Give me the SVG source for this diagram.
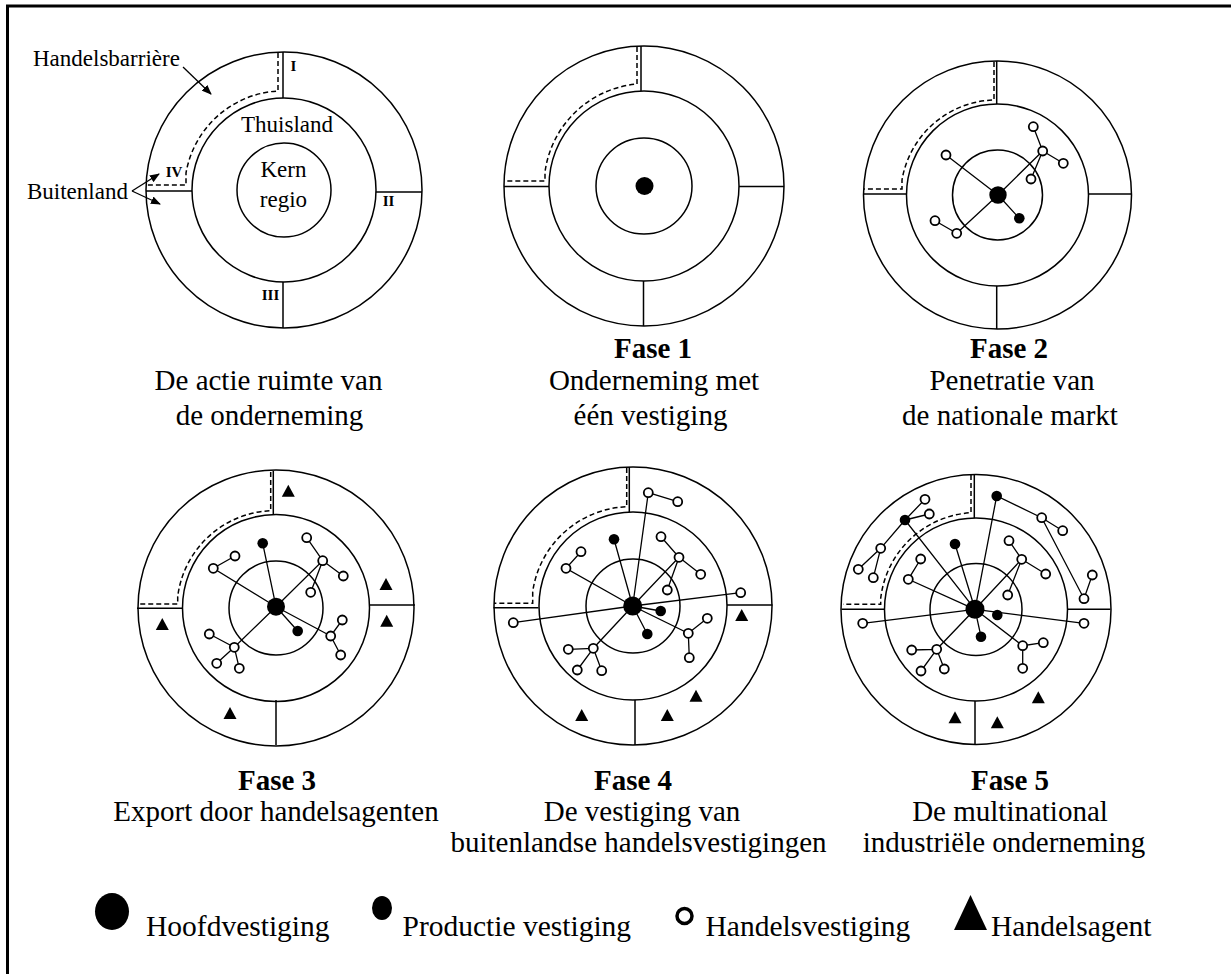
<svg xmlns="http://www.w3.org/2000/svg" xmlns:xlink="http://www.w3.org/1999/xlink" width="1231" height="974" viewBox="0 0 1231 974">
<style>
.ring{fill:none;stroke:#000;stroke-width:1.5}
.dv{stroke:#000;stroke-width:1.5;fill:none}
.dash{fill:none;stroke:#000;stroke-width:1.5;stroke-dasharray:5 3}
.link{fill:none;stroke:#000;stroke-width:1.3}
.blk{fill:#000}
.shop{fill:#fff;stroke:#000;stroke-width:1.8}
.cap{font-family:"Liberation Serif","Times New Roman",serif;font-size:29px;text-anchor:middle;fill:#000}
.b{font-weight:bold}
.lbl{font-family:"Liberation Serif","Times New Roman",serif;font-size:23px;fill:#000}
.rom{font-family:"Liberation Serif","Times New Roman",serif;font-size:15px;font-weight:bold;fill:#000;text-anchor:middle}
.leg{font-family:"Liberation Serif","Times New Roman",serif;font-size:29.5px;fill:#000}
</style>
<defs>
<path id="tri" d="M0,-7 L6.5,5 L-6.5,5Z" fill="#000"/>
<marker id="ah" markerWidth="10" markerHeight="8" refX="9" refY="4" orient="auto" markerUnits="userSpaceOnUse"><path d="M0,0 L10,4 L0,8Z" fill="#000"/></marker>
</defs>
<rect width="1231" height="974" fill="#fff"/>
<path d="M7.5,974 V6 H1231" fill="none" stroke="#000" stroke-width="3"/>

<!-- Diagram 0 -->
<g id="d0">
<circle class="ring" cx="284" cy="190" r="138"/>
<circle class="ring" cx="284" cy="190" r="92"/>
<circle class="ring" cx="284" cy="190" r="47"/>
<path class="dv" d="M283,52 V98 M376,192 H422 M283,282 V328 M146,191 H192"/>
<path class="dash" d="M278,53 V91 A99,99 0 0 0 186,173 V185 H147"/>
<text class="lbl" x="33" y="65.5">Handelsbarrière</text>
<text class="lbl" x="241" y="131.5">Thuisland</text>
<text class="lbl" x="283.5" y="177" text-anchor="middle">Kern</text>
<text class="lbl" x="283.5" y="207" text-anchor="middle">regio</text>
<text class="lbl" x="27" y="199">Buitenland</text>
<text class="rom" x="293.5" y="71">I</text>
<text class="rom" x="174" y="177">IV</text>
<text class="rom" x="388.5" y="206">II</text>
<text class="rom" x="270.5" y="300">III</text>
<path class="link" d="M183,67 L211,94" marker-end="url(#ah)"/>
<path class="link" d="M132,191 L159,174" marker-end="url(#ah)"/>
<path class="link" d="M132,191 L160,204" marker-end="url(#ah)"/>
<text class="cap" x="268.5" y="390">De actie ruimte van</text>
<text class="cap" x="269.5" y="425">de onderneming</text>
</g>

<!-- Diagram 1 -->
<g id="d1">
<circle class="ring" cx="644" cy="186" r="140"/>
<circle class="ring" cx="644" cy="186" r="95"/>
<circle class="ring" cx="644" cy="186" r="48"/>
<path class="dv" d="M641,46 V91 M739,186.5 H784 M643.5,281 V326 M504,186.5 H549"/>
<path class="dash" d="M637,47 V84 A102,102 0 0 0 545,172 V181 H505"/>
<g id="d1-hq"><circle class="blk" cx="644.5" cy="186" r="9"/></g>
<text class="cap b" x="653" y="358">Fase 1</text>
<text class="cap" x="654" y="390">Onderneming met</text>
<text class="cap" x="650.5" y="425">één vestiging</text>
</g>

<!-- Diagram 2 -->
<g id="d2">
<circle class="ring" cx="997.5" cy="195" r="134"/>
<circle class="ring" cx="997.5" cy="195" r="91"/>
<circle class="ring" cx="997.5" cy="195" r="45"/>
<path class="dv" d="M996.7,61 V104 M1089,194 H1131.5 M996.7,286 V329 M863.5,194 H907"/>
<path class="dash" d="M994,62 V100 A96,96 0 0 0 902,180 V189 H864"/>
<g id="d2-links"><path class="link" d="M998,195 L946,155 M998,195 L1042.7,151 M998,195 L1019.3,218.3 M998,195 L956.7,233.3 M1042.7,151 L1033.3,126.7 M1042.7,151 L1063.3,163.3 M1042.7,151 L1031,179 M935,220.7 L956.7,233.3"/></g>
<g id="d2-nodes">
<circle class="blk" cx="998" cy="195" r="8.7"/>
<circle class="blk" cx="1019.3" cy="218.3" r="5.3"/>
<circle class="shop" cx="946" cy="155" r="4.5"/>
<circle class="shop" cx="1033.3" cy="126.7" r="4.5"/>
<circle class="shop" cx="1042.7" cy="151" r="4.5"/>
<circle class="shop" cx="1063.3" cy="163.3" r="4.5"/>
<circle class="shop" cx="1031" cy="179" r="4.5"/>
<circle class="shop" cx="935" cy="220.7" r="4.5"/>
<circle class="shop" cx="956.7" cy="233.3" r="4.5"/>
</g>
<text class="cap b" x="1009" y="358">Fase 2</text>
<text class="cap" x="1012" y="390">Penetratie van</text>
<text class="cap" x="1010" y="425">de nationale markt</text>
</g>

<!-- Diagram 3 -->
<g id="d3">
<circle class="ring" cx="276" cy="608" r="138"/>
<circle class="ring" cx="276" cy="608" r="93.5"/>
<circle class="ring" cx="276" cy="608" r="47"/>
<path class="dv" d="M273.3,471 V514 M370,605 H415 M276,700 V745 M137,608.3 H182"/>
<path class="dash" d="M270.7,472 V510.7 A98,98 0 0 0 177.7,596.7 V604 H138"/>
<g id="d3-links"><path class="link" d="M276,606.7 L213.3,568.3 L235,556 M276,606.7 L262.7,543.3 M276,606.7 L322.7,560.7 L306.7,537.7 M322.7,560.7 L343.3,576 M322.7,560.7 L310.7,592.3 M276,606.7 L297.7,631 M276,606.7 L330.7,636 L342.3,620 M330.7,636 L340.7,655 M276,606.7 L234.3,647.3 L209.3,634 M234.3,647.3 L216.7,663.3 M234.3,647.3 L239.3,668.3"/></g>
<g id="d3-nodes">
<circle class="blk" cx="276" cy="606.7" r="9"/>
<circle class="blk" cx="262.7" cy="543.3" r="5.3"/>
<circle class="blk" cx="297.7" cy="631" r="5.3"/>
<circle class="shop" cx="235" cy="556" r="4.5"/>
<circle class="shop" cx="213.3" cy="568.3" r="4.5"/>
<circle class="shop" cx="306.7" cy="537.7" r="4.5"/>
<circle class="shop" cx="322.7" cy="560.7" r="4.5"/>
<circle class="shop" cx="343.3" cy="576" r="4.5"/>
<circle class="shop" cx="310.7" cy="592.3" r="4.5"/>
<circle class="shop" cx="342.3" cy="620" r="4.5"/>
<circle class="shop" cx="330.7" cy="636" r="4.5"/>
<circle class="shop" cx="340.7" cy="655" r="4.5"/>
<circle class="shop" cx="209.3" cy="634" r="4.5"/>
<circle class="shop" cx="234.3" cy="647.3" r="4.5"/>
<circle class="shop" cx="216.7" cy="663.3" r="4.5"/>
<circle class="shop" cx="239.3" cy="668.3" r="4.5"/>
<use xlink:href="#tri" x="288.3" y="491.7"/>
<use xlink:href="#tri" x="386" y="585"/>
<use xlink:href="#tri" x="386.7" y="621.7"/>
<use xlink:href="#tri" x="162.3" y="625"/>
<use xlink:href="#tri" x="230" y="714"/>
</g>
<text class="cap b" x="277" y="790">Fase 3</text>
<text class="cap" x="276" y="821">Export door handelsagenten</text>
</g>

<!-- Diagram 4 -->
<g id="d4">
<circle class="ring" cx="633" cy="606" r="139"/>
<circle class="ring" cx="633" cy="606" r="94"/>
<circle class="ring" cx="633" cy="606" r="47"/>
<path class="dv" d="M629.3,467 V512 M727,605 H772.5 M635,700 V745 M493.5,607.7 H538.5"/>
<path class="dash" d="M626.7,468 V506.7 A99,99 0 0 0 532.7,591.7 V603.3 H494"/>
<g id="d4-links"><path class="link" d="M632.7,606 L648.3,492.7 L677.7,501.7 M632.7,606 L614,539.3 M632.7,606 L566,568.3 L581,551.7 M632.7,606 L679,557.3 L661,536.7 M679,557.3 L700.7,574.3 M679,557.3 L667.3,590 M632.7,606 L740.7,592.7 M632.7,606 L513.3,622.7 M632.7,606 L660.7,611 M632.7,606 L647.3,634 M632.7,606 L688.3,633.3 L707.3,618.3 M688.3,633.3 L689.3,657.7 M632.7,606 L593.3,648.3 L568.3,649.3 M593.3,648.3 L577.3,670 M593.3,648.3 L601.7,670.7"/></g>
<g id="d4-nodes">
<circle class="blk" cx="632.7" cy="606" r="9.5"/>
<circle class="blk" cx="614" cy="539.3" r="5.3"/>
<circle class="blk" cx="660.7" cy="611" r="5.3"/>
<circle class="blk" cx="647.3" cy="634" r="5.3"/>
<circle class="shop" cx="648.3" cy="492.7" r="4.5"/>
<circle class="shop" cx="677.7" cy="501.7" r="4.5"/>
<circle class="shop" cx="661" cy="536.7" r="4.5"/>
<circle class="shop" cx="679" cy="557.3" r="4.5"/>
<circle class="shop" cx="700.7" cy="574.3" r="4.5"/>
<circle class="shop" cx="667.3" cy="590" r="4.5"/>
<circle class="shop" cx="740.7" cy="592.7" r="4.5"/>
<circle class="shop" cx="581" cy="551.7" r="4.5"/>
<circle class="shop" cx="566" cy="568.3" r="4.5"/>
<circle class="shop" cx="513.3" cy="622.7" r="4.5"/>
<circle class="shop" cx="707.3" cy="618.3" r="4.5"/>
<circle class="shop" cx="688.3" cy="633.3" r="4.5"/>
<circle class="shop" cx="689.3" cy="657.7" r="4.5"/>
<circle class="shop" cx="568.3" cy="649.3" r="4.5"/>
<circle class="shop" cx="593.3" cy="648.3" r="4.5"/>
<circle class="shop" cx="577.3" cy="670" r="4.5"/>
<circle class="shop" cx="601.7" cy="670.7" r="4.5"/>
<use xlink:href="#tri" x="741.7" y="616"/>
<use xlink:href="#tri" x="696" y="696.7"/>
<use xlink:href="#tri" x="667.3" y="716"/>
<use xlink:href="#tri" x="581.7" y="716"/>
</g>
<text class="cap b" x="633" y="790">Fase 4</text>
<text class="cap" x="642" y="821">De vestiging van</text>
<text class="cap" x="638.5" y="852">buitenlandse handelsvestigingen</text>
</g>

<!-- Diagram 5 -->
<g id="d5">
<circle class="ring" cx="976" cy="609.5" r="135"/>
<circle class="ring" cx="976" cy="609.5" r="91.5"/>
<circle class="ring" cx="976" cy="609.5" r="46"/>
<path class="dv" d="M974.3,474.5 V518 M1067,609.3 H1110.5 M975,701 V744.5 M841.5,609.3 H884.5"/>
<path class="dash" d="M971,475 V512.7 A97,97 0 0 0 880.7,598.3 V604.3 H843"/>
<g id="d5-links"><path class="link" d="M975,609.3 L905,520 L925,499.3 M905,520 L929.3,514 M905,520 L880.7,548.3 L858.3,569.3 M880.7,548.3 L873.3,577.7 M975,609.3 L996.7,496 L1041.7,517.7 L1062.7,530.7 M1041.7,517.7 L1084,598.7 L1092.3,575 M975,609.3 L955,544 M975,609.3 L908.3,579.3 L920.7,559 M975,609.3 L1021.7,559.3 L1009,540.7 M1021.7,559.3 L1045.7,574 M1021.7,559.3 L1007.7,595 M975,609.3 L862.7,623.3 M975,609.3 L1084,623.3 M975,609.3 L981,636.7 M975,609.3 L1022.7,645.7 L1043.3,642.7 M1022.7,645.7 L1022.7,668.3 M975,609.3 L936.7,649.3 L911.7,650 M936.7,649.3 L921,671 M936.7,649.3 L944.3,669"/></g>
<g id="d5-nodes">
<circle class="blk" cx="975" cy="609.3" r="9.5"/>
<circle class="blk" cx="996.7" cy="496" r="5.3"/>
<circle class="blk" cx="905" cy="520" r="5.3"/>
<circle class="blk" cx="955" cy="544" r="5.3"/>
<circle class="blk" cx="997.3" cy="615" r="5.3"/>
<circle class="blk" cx="981" cy="636.7" r="5.3"/>
<circle class="shop" cx="925" cy="499.3" r="4.5"/>
<circle class="shop" cx="929.3" cy="514" r="4.5"/>
<circle class="shop" cx="880.7" cy="548.3" r="4.5"/>
<circle class="shop" cx="858.3" cy="569.3" r="4.5"/>
<circle class="shop" cx="873.3" cy="577.7" r="4.5"/>
<circle class="shop" cx="1041.7" cy="517.7" r="4.5"/>
<circle class="shop" cx="1062.7" cy="530.7" r="4.5"/>
<circle class="shop" cx="1092.3" cy="575" r="4.5"/>
<circle class="shop" cx="1084" cy="598.7" r="4.5"/>
<circle class="shop" cx="1009" cy="540.7" r="4.5"/>
<circle class="shop" cx="1021.7" cy="559.3" r="4.5"/>
<circle class="shop" cx="1045.7" cy="574" r="4.5"/>
<circle class="shop" cx="1007.7" cy="595" r="4.5"/>
<circle class="shop" cx="920.7" cy="559" r="4.5"/>
<circle class="shop" cx="908.3" cy="579.3" r="4.5"/>
<circle class="shop" cx="862.7" cy="623.3" r="4.5"/>
<circle class="shop" cx="1084" cy="623.3" r="4.5"/>
<circle class="shop" cx="1022.7" cy="645.7" r="4.5"/>
<circle class="shop" cx="1043.3" cy="642.7" r="4.5"/>
<circle class="shop" cx="1022.7" cy="668.3" r="4.5"/>
<circle class="shop" cx="911.7" cy="650" r="4.5"/>
<circle class="shop" cx="936.7" cy="649.3" r="4.5"/>
<circle class="shop" cx="921" cy="671" r="4.5"/>
<circle class="shop" cx="944.3" cy="669" r="4.5"/>
<use xlink:href="#tri" x="1038.3" y="698.3"/>
<use xlink:href="#tri" x="955" y="718.3"/>
<use xlink:href="#tri" x="997.3" y="723.3"/>
</g>
<text class="cap b" x="1010" y="790">Fase 5</text>
<text class="cap" x="1010" y="821">De multinational</text>
<text class="cap" x="1004" y="852">industriële onderneming</text>
</g>

<!-- Legend -->
<g id="legend">
<g id="leg-hq"><ellipse class="blk" cx="112" cy="911.5" rx="17" ry="18.5"/><text class="leg" x="146" y="936">Hoofdvestiging</text></g>
<g id="leg-prod"><ellipse class="blk" cx="382" cy="908" rx="10" ry="12"/><text class="leg" x="402.5" y="936">Productie vestiging</text></g>
<g id="leg-shop"><circle cx="684.5" cy="916" r="7.5" fill="none" stroke="#000" stroke-width="3.5"/><text class="leg" x="705.5" y="936">Handelsvestiging</text></g>
<g id="leg-agent"><path d="M970.5,895 L987,930 L954,930Z" fill="#000"/><text class="leg" x="991" y="936">Handelsagent</text></g>
</g>
</svg>
